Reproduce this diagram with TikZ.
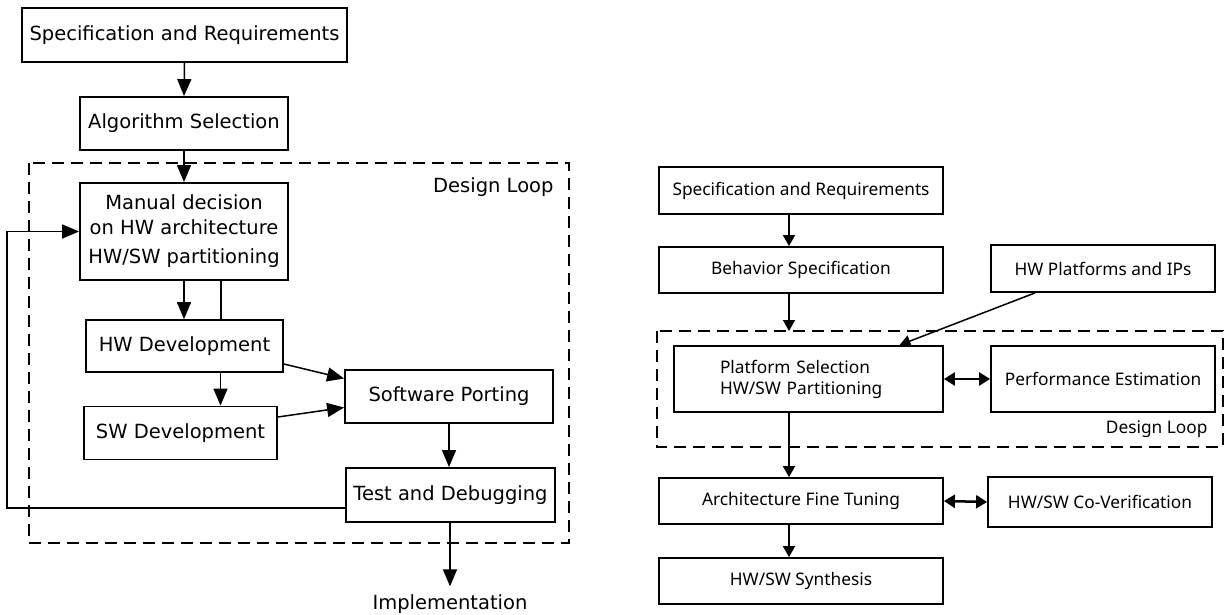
\documentclass[tikz,border=0pt]{standalone}
\usepackage{fontspec}
\usetikzlibrary{arrows.meta}
\newfontfamily\leftfont{DejaVu Sans}
\newfontfamily\rightfont{Noto Sans}
\tikzset{
    lbox/.style={draw, line width=1.8pt, inner sep=0pt, font=\leftfont\fontsize{19.5}{25}\selectfont},
    rbox/.style={draw, line width=1.8pt, inner sep=0pt, font=\rightfont\fontsize{17.3}{21}\selectfont},
    larrow/.style={line width=1.5pt, -{Triangle[length=17pt,width=14pt]}},
    rarrow/.style={line width=1.5pt, -{Triangle[length=11pt,width=12pt]}},
    rboth/.style={line width=2.5pt, {Triangle[length=11pt,width=13pt]}-{Triangle[length=11pt,width=13pt]}},
    loop/.style={line width=1.8pt, dash pattern=on 12pt off 7pt}
}
\begin{document}
\begin{tikzpicture}[x=1pt,y=-1pt]
    \useasboundingbox (0,0) rectangle (1225,615);
    \node[lbox, minimum width=325pt, minimum height=54pt] (lspec) at (184.5,35) {Specification and Requirements};
    \node[lbox, minimum width=208pt, minimum height=53pt] (lalgo) at (184,123.5) {Algorithm Selection};
    \draw[loop] (29,163) rectangle (569,543);
    \node[font=\leftfont\fontsize{19.5}{20}\selectfont, anchor=east] (lloop) at (557,187) {Design Loop};
    \node[lbox, minimum width=208pt, minimum height=97pt, align=center] (lman) at (184,231.5)
        {Manual decision\\on HW architecture\\[4pt]HW/SW partitioning};
    \node[lbox, minimum width=197pt, minimum height=52pt] (lhw) at (184.5,346) {HW Development};
    \node[lbox, minimum width=193pt, minimum height=53pt] (lsw) at (180.5,433) {SW Development};
    \node[lbox, minimum width=208pt, minimum height=53pt] (lport) at (449,396.5) {Software Porting};
    \node[lbox, minimum width=209pt, minimum height=54pt] (ltest) at (450.5,495) {Test and Debugging};
    \node[font=\leftfont\fontsize{19.5}{20}\selectfont, inner sep=0pt] (limpl) at (450,604) {Implementation};
    \draw[larrow] (lspec.south) -- (lalgo.north);
    \draw[larrow] (lalgo.south) -- (lman.north);
    \draw[larrow] (lman.south) -- (lman.south |- lhw.north);
    \draw[line width=1.5pt] ([xshift=37pt]lman.south) -- ([xshift=37pt]lman.south |- lhw.north);
    \draw[larrow] ([xshift=36pt]lhw.south) -- ([xshift=36pt]lhw.south |- lsw.north);
    \draw[larrow] ([yshift=-18pt]lhw.east) -- ([yshift=18pt]lport.west);
    \draw[larrow] ([yshift=16pt]lsw.east) -- ([yshift=-11pt]lport.west);
    \draw[larrow] (lport.south) -- (lport.south |- ltest.north);
    \draw[larrow] (ltest.south -| limpl.north) -- ([yshift=8pt]limpl.north);
    \draw[larrow] ([yshift=-13pt]ltest.west) -| ([xshift=-72pt]lman.west) -- (lman.west);

    \node[rbox, minimum width=284pt, minimum height=47pt] (rspec) at (801,190.5) {Specification and Requirements};
    \node[rbox, minimum width=284pt, minimum height=46pt] (rbeh) at (801,270) {Behavior Specification};
    \node[rbox, minimum width=224pt, minimum height=47pt] (rhwp) at (1103,268.5) {HW Platforms and IPs};
    \draw[loop] (657,331) rectangle (1223,447);
    \coordinate (rtop) at (789,331);
    \node[font=\rightfont\fontsize{17.3}{20}\selectfont, anchor=east] (rloop) at (1211,429) {Design Loop};
    \node[rbox, minimum width=269pt, minimum height=66pt, text width=177pt, align=left] (rplat) at (808.5,379)
        {Platform Selection\\HW/SW Partitioning};
    \node[rbox, minimum width=224pt, minimum height=66pt] (rperf) at (1103,379) {Performance Estimation};
    \node[rbox, minimum width=284pt, minimum height=46pt] (rarch) at (801,501) {Architecture Fine Tuning};
    \node[rbox, minimum width=224pt, minimum height=50pt] (rcov) at (1100,502) {HW/SW Co-Verification};
    \node[rbox, minimum width=284pt, minimum height=46pt] (rsyn) at (801,581) {HW/SW Synthesis};
    \draw[rarrow] ([xshift=-12pt]rspec.south) -- ([xshift=-12pt]rbeh.north);
    \draw[rarrow] ([xshift=-12pt]rbeh.south) -- (rtop);
    \draw[rarrow] ([xshift=-68pt]rhwp.south) -- ([xshift=91pt]rplat.north);
    \draw[rboth] (rplat.east) -- (rperf.west);
    \draw[rarrow] ([xshift=-12pt]rarch.north |- rplat.south) -- ([xshift=-12pt]rarch.north);
    \draw[rboth] (rarch.east) -- (rcov.west);
    \draw[rarrow] ([xshift=-12pt]rarch.south) -- ([xshift=-12pt]rsyn.north);
\end{tikzpicture}
\end{document}
